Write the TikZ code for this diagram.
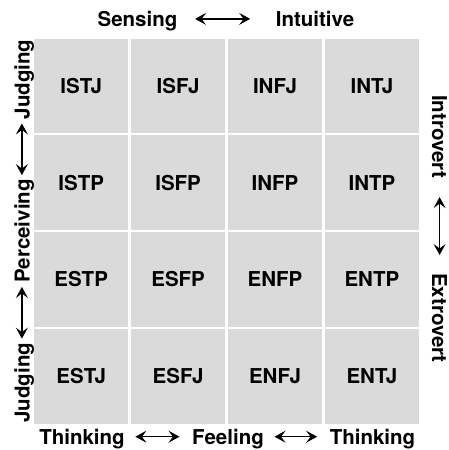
\documentclass[tikz,border=0pt]{standalone}
\usepackage{fontspec}
\setmainfont{TeX Gyre Heros}
\usetikzlibrary{arrows.meta}
\definecolor{cellgray}{RGB}{218,218,218}
\tikzset{
  lbl/.style={font=\fontsize{20.5}{24}\selectfont\bfseries, inner sep=0pt, anchor=base},
  cell/.style={rectangle, fill=cellgray, minimum width=94.4pt, minimum height=94.4pt,
    inner sep=0pt, font=\fontsize{20.5}{24}\selectfont\bfseries},
  biarrow/.style={{Stealth[length=11pt,width=12pt,inset=4.5pt]}-{Stealth[length=11pt,width=12pt,inset=4.5pt]},
    line width=1.2pt},
}
\begin{document}
\begin{tikzpicture}[x=1pt,y=-1pt]
\useasboundingbox (0,0) rectangle (448,450);

% 4x4 grid of type cells
\foreach \r [count=\j from 0] in {{ISTJ,ISFJ,INFJ,INTJ},{ISTP,ISFP,INFP,INTP},{ESTP,ESFP,ENFP,ENTP},{ESTJ,ESFJ,ENFJ,ENTJ}}{
  \foreach \t [count=\i from 0] in \r {
    \node[cell] (c\i\j) at (81.2+96.9*\i, 85.7+96.9*\j) {\t};
  }
}

% top axis
\node[lbl] (sens) at (137.5,26.5) {Sensing};
\node[lbl] (intu) at (315,26.5) {Intuitive};
\draw[biarrow] ([xshift=17.5pt,yshift=7.6pt]sens.base east) -- ([xshift=-25.5pt,yshift=7.6pt]intu.base west);

% bottom axis
\node[lbl] (thinkA) at (82,444.3) {Thinking};
\node[lbl] (feel) at (228,444.3) {Feeling};
\node[lbl] (thinkB) at (372.5,444.3) {Thinking};
\draw[biarrow] ([xshift=10.5pt,yshift=7.6pt]thinkA.base east) -- ([xshift=-12.5pt,yshift=7.6pt]feel.base west);
\draw[biarrow] ([xshift=10.5pt,yshift=7.6pt]feel.base east) -- ([xshift=-12.5pt,yshift=7.6pt]thinkB.base west);

% left axis (reads bottom to top)
\node[lbl, rotate=90] (judgA) at (29.5,79.4) {Judging};
\node[lbl, rotate=90] (perc) at (29.5,231) {Perceiving};
\node[lbl, rotate=90] (judgB) at (29.5,382.7) {Judging};
\draw[biarrow] ([xshift=-7.6pt,yshift=4pt]judgB.base east) -- ([xshift=-7.6pt,yshift=-4pt]perc.base west);
\draw[biarrow] ([xshift=-7.6pt,yshift=4pt]perc.base east) -- ([xshift=-7.6pt,yshift=-4pt]judgA.base west);

% right axis (reads top to bottom)
\node[lbl, rotate=-90] (intro) at (432,136.5) {Introvert};
\node[lbl, rotate=-90] (extro) at (432,318) {Extrovert};
\draw[biarrow] ([xshift=7.6pt,yshift=-19pt]intro.base east) -- ([xshift=7.6pt,yshift=18pt]extro.base west);
\end{tikzpicture}
\end{document}
